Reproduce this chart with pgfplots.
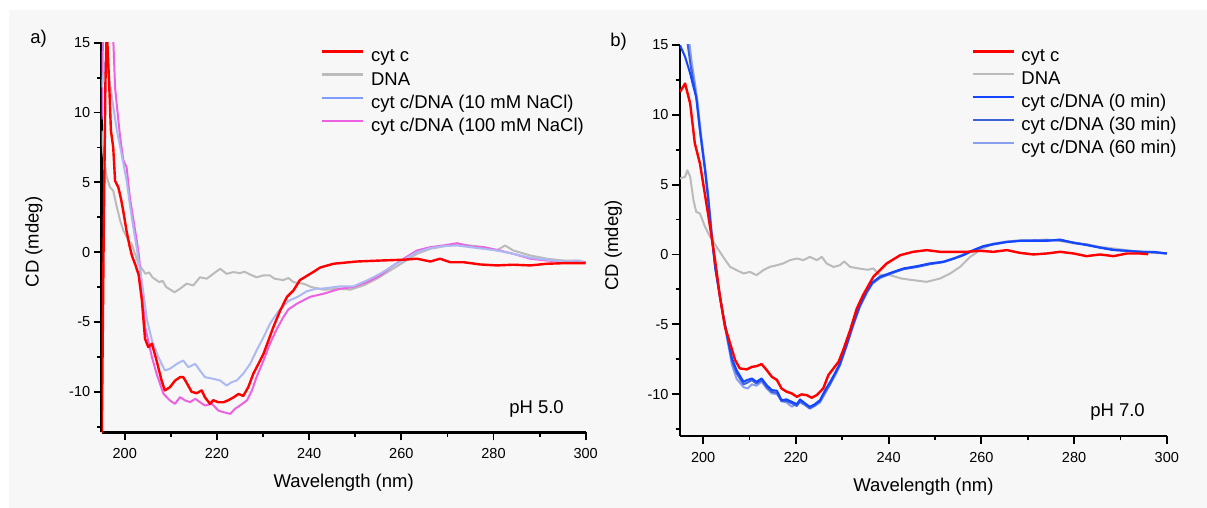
\documentclass[border=0pt]{standalone}
\usepackage{pgfplots}
\pgfplotsset{compat=1.18}
\usepackage{fontspec}
\setmainfont{Liberation Sans}
\definecolor{bgc}{HTML}{F7F7F7}
\definecolor{cred}{HTML}{FF0000}
\definecolor{cgray}{HTML}{BBBBBB}
\definecolor{clb}{HTML}{ADB9F2}
\definecolor{clbL}{HTML}{7F9CFF}
\definecolor{cmag}{HTML}{EC62E0}
\definecolor{cb0}{HTML}{1446FF}
\definecolor{cb30}{HTML}{3D62DC}
\definecolor{cb60}{HTML}{8A9EF0}
\newcommand{\bigf}{\fontsize{18.5}{22}\selectfont}
\newcommand{\smallf}{\fontsize{14.5}{17}\selectfont}
\pgfplotsset{
 cdaxis/.style={
  scale only axis,
  axis x line*=bottom, axis y line*=left,
  axis line style={line width=2.6pt},
  xmin=195, xmax=300, ymax=15,
  xtick={200,220,...,300}, minor xtick={210,230,...,290},
  ytick={-10,-5,...,15}, minor ytick={-12.5,-7.5,...,12.5},
  tick align=outside,
  major tick length=8pt, minor tick length=4.5pt,
  every tick/.style={black, line width=1.8pt},
  tick label style={font=\smallf},
  xticklabel style={yshift=-4.5pt},
  /pgf/number format/assume math mode=true,
  label style={font=\bigf},
  xlabel={Wavelength (nm)}, ylabel={CD (mdeg)},
  legend cell align=left,
  legend image code/.code={\draw[##1, line width=2.6pt] (0pt,6pt) -- (41pt,6pt);},
  every axis plot/.append style={line width=2pt, line join=round},
 }
}
\begin{document}
\begin{tikzpicture}
\useasboundingbox (0pt,0pt) rectangle (1207pt,508pt);
\fill[white] (0pt,0pt) rectangle (1207pt,508pt);
\fill[bgc] (9pt,0pt) rectangle (1207pt,498pt);
\node[font=\bigf] at (38.5pt,469pt) {a)};
\node[font=\bigf] at (618.5pt,466.3pt) {b)};
% ---------------- panel a
\begin{axis}[cdaxis,
  at={(101.7pt,75.7pt)}, anchor=south west, width=484pt, height=389.6pt,
  ymin=-12.9,
  xlabel style={at={(axis description cs:0.5,-0.1417)}, anchor=base},
  ylabel style={at={(axis description cs:-0.140,0.489)}, anchor=center},
  legend style={at={(0.4525,0.985)}, anchor=north west, draw=none, fill=none, inner sep=0pt,
    row sep=6.3pt, font=\bigf, nodes={inner sep=0pt, text height=13pt, text depth=4pt},
    /tikz/every odd column/.append style={column sep=6.6pt}},
]
\addlegendimage{cred}
\addlegendimage{cgray}
\addlegendimage{clbL}
\addlegendimage{cmag}
\legend{cyt c, DNA, cyt c/DNA (10 mM NaCl), cyt c/DNA (100 mM NaCl)}
\addplot[cgray, forget plot] coordinates {
(195,8.7) (195.35,7.05) (196.1,5.37) (196.8,4.65) (197.5,4.4) (198.3,3.2) (199.0,2.27) (199.7,1.55) (200.8,0.84) (201.5,0.6) (202.0,0.1) (203.0,-0.83) (204.5,-1.55) (205.3,-1.45) (206.0,-1.8) (207.5,-2.15) (208.2,-2.05) (209.0,-2.5) (210.8,-2.87) (212.0,-2.62) (213.4,-2.26) (214.9,-2.38) (216.3,-1.8) (217.8,-1.9) (219.2,-1.55) (220.7,-1.19) (222.1,-1.55) (223.6,-1.43) (225.0,-1.5) (226.0,-1.4) (227.2,-1.6) (228.6,-1.8) (230.0,-1.67) (231.5,-1.67) (232.5,-1.9) (234.4,-2.0) (235.5,-1.85) (236.6,-2.15) (238.8,-2.26) (240.5,-2.5) (243.1,-2.69) (246.7,-2.62) (248.9,-2.69) (251.8,-2.38) (254.7,-1.9) (257.6,-1.31) (260.5,-0.72) (263.4,-0.12) (266.3,0.24) (269.1,0.41) (272.1,0.6) (274.9,0.48) (277.8,0.36) (280.7,0.12) (282.5,0.48) (284.3,0.12) (288.0,-0.24) (291.6,-0.47) (295.2,-0.6) (298.5,-0.6) (300,-0.72)
};
\addplot[cmag, forget plot] coordinates {
(195,9.5) (195.3,16) (197.4,16) (197.6,14.5) (197.9,11.8) (198.5,9.8) (199.0,8.24) (199.7,6.57) (200.4,6.09) (201.1,3.94) (201.9,2.27) (202.6,0.84) (203.1,-0.3) (203.7,-2.5) (204.4,-5.35) (205.1,-6.33) (205.9,-7.52) (206.9,-8.7) (208.4,-10.14) (209.8,-10.62) (210.9,-10.86) (212.0,-10.38) (213.1,-10.62) (214.2,-10.74) (215.3,-10.5) (216.3,-10.74) (217.4,-10.98) (218.9,-10.86) (220.3,-11.34) (221.4,-11.46) (222.9,-11.58) (223.9,-11.22) (225.0,-10.98) (226.5,-10.62) (227.6,-9.9) (228.6,-8.95) (230.1,-7.76) (231.5,-6.56) (233.0,-5.5) (234.4,-4.66) (235.5,-4.1) (237.3,-3.7) (240.2,-3.2) (243.1,-2.98) (246.7,-2.62) (249.6,-2.5) (252.5,-2.15) (255.4,-1.67) (258.3,-0.95) (260.5,-0.47) (263.4,0.12) (266.3,0.36) (269.1,0.48) (272.1,0.64) (274.9,0.41) (277.8,0.36) (280.7,0.17) (284.3,-0.12) (288.0,-0.47) (291.6,-0.6) (295.2,-0.67) (300,-0.72)
};
\addplot[clb, forget plot] coordinates {
(195,11.8) (195.5,13.0) (195.9,13.8) (196.4,13.0) (197.2,11.1) (198.3,8.7) (199.3,7.05) (200.4,5.14) (201.2,3.2) (201.8,1.9) (202.6,0.3) (203.2,-1.0) (203.8,-2.3) (204.8,-4.8) (205.9,-6.33) (207.3,-7.52) (208.7,-8.47) (209.8,-8.35) (211.3,-8.0) (212.7,-7.76) (213.8,-8.24) (215.3,-8.0) (216.3,-8.47) (217.4,-8.95) (219.2,-9.07) (220.7,-9.19) (222.1,-9.55) (223.2,-9.31) (224.3,-9.19) (225.7,-8.7) (227.2,-8.0) (228.6,-7.04) (230.1,-6.09) (231.5,-5.13) (233.0,-4.4) (233.7,-4.1) (235.5,-3.5) (237.5,-3.2) (239.5,-2.8) (241.5,-2.62) (243.1,-2.6) (246.7,-2.45) (249.6,-2.45) (252.5,-2.03) (255.4,-1.55) (258.3,-0.95) (260.5,-0.54) (263.4,0.0) (266.3,0.29) (269.1,0.43) (272.1,0.48) (274.9,0.36) (277.8,0.24) (280.7,0.12) (284.3,-0.12) (288.0,-0.4) (291.6,-0.54) (295.2,-0.67) (298.1,-0.6) (300,-0.79)
};
\addplot[cred, line width=2.4pt, forget plot] coordinates {
(195.0,-14) (195.4,0) (195.8,12) (196.1,16) (196.3,14.5) (196.65,11.8) (197.0,8.7) (197.5,7.5) (197.9,5.1) (198.6,4.65) (199.2,3.8) (199.7,2.9) (200.4,1.5) (201.0,0.5) (201.6,-0.3) (202.3,-0.9) (203.0,-1.6) (203.7,-3.4) (204.4,-6.2) (205.1,-6.8) (205.9,-6.56) (206.9,-7.76) (208.0,-9.2) (208.7,-9.9) (209.8,-9.67) (210.9,-9.2) (212.0,-8.95) (212.7,-8.95) (213.5,-9.4) (214.5,-10.0) (215.6,-10.1) (216.7,-9.9) (217.4,-10.4) (218.5,-10.86) (219.2,-10.6) (220.3,-10.75) (221.4,-10.75) (222.5,-10.6) (223.6,-10.4) (224.7,-10.15) (225.7,-10.3) (226.8,-9.67) (227.9,-8.7) (229.0,-8.0) (230.1,-7.28) (231.2,-6.3) (232.2,-5.4) (233.7,-4.2) (235.2,-3.2) (236.6,-2.74) (238.0,-2.0) (239.5,-1.7) (241.0,-1.4) (242.4,-1.1) (245.3,-0.83) (250.3,-0.67) (255.4,-0.6) (260.5,-0.54) (263.4,-0.47) (266.3,-0.67) (268.4,-0.47) (270.6,-0.72) (273.5,-0.72) (277.1,-0.88) (280.7,-0.95) (284.3,-0.9) (288.0,-0.95) (291.6,-0.83) (295.2,-0.79) (300,-0.79)
};
\node[anchor=base east, font=\bigf] at (axis description cs:0.962,0.0488) {pH 5.0};
\end{axis}
% ---------------- panel b
\begin{axis}[cdaxis,
  at={(680pt,72pt)}, anchor=south west, width=486.8pt, height=391pt,
  ymin=-13,
  xlabel style={at={(axis description cs:0.5,-0.1412)}, anchor=base},
  ylabel style={at={(axis description cs:-0.137,0.488)}, anchor=center},
  legend style={at={(0.599,0.991)}, anchor=north west, draw=none, fill=none, inner sep=0pt,
    row sep=5.9pt, font=\bigf, nodes={inner sep=0pt, text height=13pt, text depth=4pt},
    /tikz/every odd column/.append style={column sep=6pt}},
]
\addlegendimage{cred}
\addlegendimage{cgray}
\addlegendimage{cb0}
\addlegendimage{cb30}
\addlegendimage{cb60}
\legend{cyt c, DNA, cyt c/DNA (0 min), cyt c/DNA (30 min), cyt c/DNA (60 min)}
\addplot[cgray, forget plot] coordinates {
(195,5.44) (196.1,5.56) (196.6,6.03) (197.2,5.56) (197.9,3.89) (198.5,3.05) (199.3,2.93) (200.4,1.98) (201.5,1.26) (202.9,0.54) (204.3,-0.17) (205.8,-0.89) (207.2,-1.12) (208.7,-1.36) (210.1,-1.25) (211.5,-1.48) (213.0,-1.12) (214.4,-0.89) (215.9,-0.77) (217.3,-0.64) (218.7,-0.41) (220.2,-0.29) (221.6,-0.41) (223.0,-0.17) (224.5,-0.41) (225.6,-0.17) (226.6,-0.64) (228.1,-0.89) (229.5,-0.77) (230.4,-0.5) (231.7,-0.89) (233.5,-1.0) (235.5,-1.1) (236.7,-1.0) (238.0,-1.45) (240.3,-1.48) (242.7,-1.72) (245.3,-1.84) (248.2,-1.96) (251.1,-1.72) (253.3,-1.36) (255.4,-0.89) (257.6,-0.17) (259.7,0.31) (261.9,0.67) (264.8,0.9) (268.4,1.02) (272.0,1.02) (274.1,1.07) (277.0,0.97) (279.9,0.79) (282.7,0.74) (285.6,0.54) (288.5,0.43) (291.4,0.31) (294.2,0.19) (297.1,0.11) (300,0.07)
};
\addplot[cb60, forget plot] coordinates {
(195,16) (196.9,15.5) (197.5,13.8) (198.2,12.3) (198.8,10.9) (199.5,8.7) (200.5,6.0) (201.1,4.2) (201.9,1.4) (202.7,-1.0) (203.7,-3.1) (204.4,-4.6) (205.2,-6.1) (206.2,-7.9) (207.2,-8.9) (208.7,-9.5) (209.6,-9.6) (210.5,-9.3) (211.5,-9.4) (212.6,-9.1) (213.7,-9.6) (214.8,-9.95) (215.9,-10.0) (216.9,-10.5) (218.0,-10.6) (219.1,-10.9) (220.2,-10.7) (220.9,-10.6) (222.0,-10.8) (223.0,-11.05) (224.1,-10.85) (225.2,-10.6) (226.3,-9.95) (227.4,-9.3) (228.4,-8.7) (229.5,-7.95) (231.0,-6.5) (232.4,-5.05) (233.8,-3.75) (235.3,-2.75) (236.5,-2.1) (238.1,-1.7) (241.0,-1.3) (243.2,-1.05) (246.1,-0.85) (248.9,-0.65) (251.8,-0.5) (254.0,-0.28) (256.1,0.0) (258.3,0.32) (260.4,0.6) (262.6,0.78) (265.5,0.92) (268.4,1.0) (271.2,1.02) (274.1,1.0) (277.0,1.05) (279.9,0.85) (282.7,0.7) (285.6,0.5) (288.5,0.33) (291.4,0.27) (294.2,0.2) (297.1,0.17) (300,0.07)
};
\addplot[cb30, forget plot] coordinates {
(195,16) (196.6,15.2) (197.3,13.5) (198.0,12.2) (198.6,11.0) (199.4,8.6) (200.4,6.1) (201.0,4.3) (201.8,1.5) (202.6,-0.9) (203.6,-3.0) (204.3,-4.4) (205.1,-5.8) (206.2,-7.6) (207.2,-8.5) (208.7,-9.3) (209.4,-9.2) (210.5,-9.0) (211.5,-9.25) (212.6,-9.0) (213.7,-9.5) (214.8,-9.85) (215.9,-9.9) (216.9,-10.5) (218.0,-10.5) (219.1,-10.65) (220.2,-10.85) (220.9,-10.5) (222.0,-10.75) (223.0,-11.0) (224.1,-10.8) (225.2,-10.5) (226.3,-9.85) (227.4,-9.25) (228.4,-8.6) (229.5,-7.9) (231.0,-6.45) (232.4,-5.0) (233.8,-3.7) (235.3,-2.7) (236.5,-2.05) (238.1,-1.65) (241.0,-1.3) (243.2,-1.05) (246.1,-0.9) (248.9,-0.7) (251.8,-0.55) (254.0,-0.32) (256.1,-0.05) (258.3,0.28) (260.4,0.55) (262.6,0.72) (265.5,0.88) (268.4,0.98) (271.2,1.0) (274.1,1.02) (277.0,1.0) (279.9,0.85) (282.7,0.7) (285.6,0.5) (288.5,0.35) (291.4,0.25) (294.2,0.2) (297.1,0.15) (300,0.07)
};
\addplot[cb0, forget plot] coordinates {
(195,14.98) (196.1,14.15) (197.2,12.96) (197.9,12.0) (198.5,11.28) (199.3,8.9) (200.4,6.0) (201.0,4.2) (201.8,1.4) (202.6,-1.0) (203.6,-3.0) (204.3,-4.3) (205.1,-5.65) (206.2,-7.44) (207.2,-8.28) (208.7,-9.12) (209.4,-9.0) (210.5,-8.88) (211.5,-9.12) (212.6,-8.88) (213.7,-9.36) (214.8,-9.71) (215.9,-9.76) (216.9,-10.43) (218.0,-10.38) (219.1,-10.55) (220.2,-10.72) (220.9,-10.38) (222.0,-10.67) (223.0,-10.91) (224.1,-10.72) (225.2,-10.43) (226.3,-9.71) (227.4,-9.12) (228.4,-8.52) (229.5,-7.8) (231.0,-6.37) (232.4,-4.9) (233.8,-3.6) (235.3,-2.6) (236.5,-2.0) (238.1,-1.6) (241.0,-1.25) (243.2,-1.0) (246.1,-0.84) (248.9,-0.64) (251.8,-0.53) (254.0,-0.29) (256.1,-0.05) (258.3,0.31) (260.4,0.59) (262.6,0.74) (265.5,0.9) (268.4,0.97) (271.2,0.97) (274.1,0.97) (277.0,1.07) (279.9,0.83) (282.7,0.67) (285.6,0.48) (288.5,0.31) (291.4,0.26) (294.2,0.19) (297.1,0.19) (300,0.07)
};
\addplot[cred, line width=2.4pt, forget plot] coordinates {
(195,11.64) (196.1,12.24) (197.2,10.8) (198.2,7.95) (199.3,6.51) (200.0,5.08) (200.8,3.41) (201.0,3.0) (201.8,1.3) (202.6,-0.5) (203.6,-3.0) (204.7,-5.18) (205.8,-6.37) (206.9,-7.57) (207.9,-8.16) (209.4,-8.23) (210.5,-8.05) (211.5,-8.0) (212.6,-7.85) (213.7,-8.28) (214.8,-8.76) (215.9,-8.99) (216.9,-9.6) (218.0,-9.83) (219.1,-9.95) (220.2,-10.19) (221.2,-10.02) (222.3,-10.07) (223.4,-10.26) (224.5,-10.07) (225.9,-9.59) (227.0,-8.64) (228.1,-8.16) (229.2,-7.69) (230.2,-6.85) (231.7,-5.42) (233.1,-3.9) (234.5,-2.9) (236.7,-1.6) (239.6,-0.64) (242.5,-0.05) (245.3,0.19) (248.2,0.31) (251.1,0.19) (254.0,0.19) (256.9,0.19) (259.7,0.26) (262.6,0.19) (265.5,0.31) (268.4,0.11) (271.2,0.0) (274.1,0.07) (277.0,0.19) (279.9,0.07) (282.7,-0.12) (285.6,0.0) (288.5,-0.12) (291.4,0.07) (294.2,0.07) (296.0,0.02)
};
\node[anchor=base east, font=\bigf] at (axis description cs:0.962,0.0486) {pH 7.0};
\end{axis}
\end{tikzpicture}
\end{document}
